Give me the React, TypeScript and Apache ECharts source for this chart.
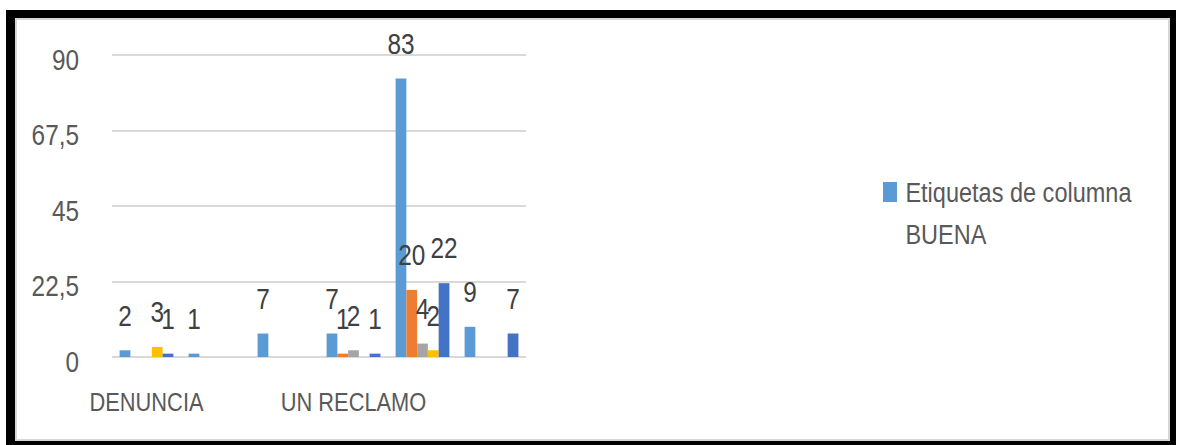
import React, { useEffect, useRef } from "react";
import * as echarts from "echarts";

// Pivot chart data: complaint type by rating
const categories = ["DENUNCIA", "INFORMACIÓN", "QUEJA", "UN RECLAMO", "UNA CONSULTA", "UNA SUGERENCIA"];
const seriesNames = ["BUENA", "EXCELENTE", "MALA", "MUY MALA", "REGULAR"];
const buena = [2, 1, 7, 7, 83, 9];
const excelente = [null, null, null, 1, 20, null];
const mala = [null, null, null, 2, 4, null];
const muyMala = [3, null, null, null, 2, null];
const regular = [1, null, null, 1, 22, 7];
const yTicks = [0, 22.5, 45, 67.5, 90];
const legendHeader = "Etiquetas de columna";

const palette = ["#5B9BD5", "#ED7D31", "#A5A5A5", "#FFC000", "#4472C4"];
const FONT = "'Liberation Sans', Arial, sans-serif";

// The chart is laid out on a wider canvas and squeezed horizontally,
// which gives the condensed lettering of the original sheet.
const SQUEEZE = 0.84;
const W = 1178;
const H = 445;
const sx = (px: number) => px / SQUEEZE;

export default function App() {
  const ref = useRef<HTMLDivElement>(null);

  useEffect(() => {
    if (!ref.current) return;
    const chart = echarts.init(ref.current, undefined, { renderer: "svg" });
    const values = [buena, excelente, mala, muyMala, regular];
    chart.setOption({
      animation: false,
      backgroundColor: "#ffffff",
      color: palette,
      textStyle: { fontFamily: FONT },
      grid: { left: sx(112), top: 55, width: sx(414), height: 302, containLabel: false },
      legend: {
        data: [seriesNames[0]],
        left: sx(883),
        top: 129,
        padding: 0,
        orient: "vertical",
        icon: "rect",
        itemWidth: sx(14),
        itemHeight: 20,
        formatter: (name: string) => `\n${legendHeader}\n${name}`,
        textStyle: {
          fontFamily: FONT,
          fontSize: 28,
          lineHeight: 42,
          color: "#595959",
          padding: [0, 0, 0, 5],
        },
      },
      xAxis: {
        type: "category",
        data: categories,
        axisLine: { show: false },
        axisTick: { show: false },
        axisLabel: {
          interval: 2,
          margin: 32,
          fontFamily: FONT,
          fontSize: 26,
          color: "#595959",
        },
      },
      yAxis: {
        type: "value",
        min: yTicks[0],
        max: yTicks[yTicks.length - 1],
        interval: yTicks[1] - yTicks[0],
        axisLine: { show: false },
        axisTick: { show: false },
        splitLine: { lineStyle: { color: "#D9D9D9", width: 2 } },
        axisLabel: {
          margin: sx(33),
          fontFamily: FONT,
          fontSize: 29,
          color: "#595959",
          verticalAlign: "top",
          lineHeight: 10,
          formatter: (v: number) => String(v).replace(".", ","),
        },
      },
      series: values.map((data, i) => ({
        name: seriesNames[i],
        type: "bar",
        data,
        barGap: "0%",
        barCategoryGap: "22%",
        label: {
          show: true,
          position: "top",
          distance: 20,
          fontFamily: FONT,
          fontSize: 29,
          color: "#404040",
        },
      })),
    });
    return () => chart.dispose();
  }, []);

  return (
    <div style={{ position: "absolute", left: 0, top: 0, width: W, height: H, background: "#fff", overflow: "hidden" }}>
      <div
        ref={ref}
        style={{
          position: "absolute",
          left: 0,
          top: 0,
          width: sx(W),
          height: H,
          transform: `scaleX(${SQUEEZE})`,
          transformOrigin: "0 0",
        }}
      />
      <div
        style={{
          position: "absolute",
          left: 6,
          top: 10,
          width: 1170,
          height: 437,
          boxSizing: "border-box",
          borderStyle: "solid",
          borderColor: "#000",
          borderWidth: "8px 6px 6px 9px",
          pointerEvents: "none",
        }}
      >
        <div
          style={{
            position: "absolute",
            inset: 0,
            border: "2px solid #D6D6D6",
            pointerEvents: "none",
          }}
        />
      </div>
    </div>
  );
}
